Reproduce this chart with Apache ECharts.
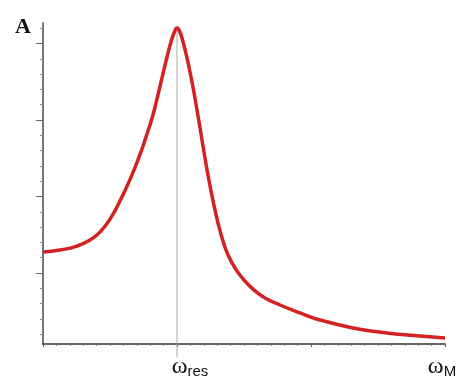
<!DOCTYPE html>
<html>
<head>
<meta charset="utf-8">
<script src="https://cdn.jsdelivr.net/npm/echarts@6/dist/echarts.min.js"></script>
<style>
  html, body { margin: 0; padding: 0; background: #fff; }
  #chart { width: 458px; height: 379px; }
</style>
</head>
<body>
<div id="chart"></div>
<script>
// Resonance curve: amplitude A against driving frequency ω
const omegaValues = [0, 1.27, 2.54, 3.51, 4.25, 5.0, 5.75, 6.49, 7.24, 7.69, 8.13, 8.43, 8.73, 9.03, 9.25, 9.55, 9.78, 10,
  10.22, 10.45, 10.75, 11.12, 11.34, 11.57, 11.94, 12.31, 12.69, 13.06, 13.43, 13.81, 14.33, 14.93, 15.67, 16.57,
  17.69, 19.18, 20.67, 23.13, 25.67, 28.13, 30];
const amplitudeValues = [6.37, 6.5, 6.76, 7.15, 7.67, 8.52, 9.72, 11.1, 12.75, 13.9, 15.1, 16.1, 17.2, 18.3, 19.1, 20.1, 20.69, 21.01,
  20.75, 20.1, 19.05, 17.48, 16.44, 15.26, 13.3, 11.41, 9.71, 8.27, 7.09, 6.18, 5.33, 4.61, 3.95, 3.37,
  2.91, 2.39, 1.93, 1.41, 1.08, 0.88, 0.75];

// Resonance marker
const resonanceOmega = 10;
const resonanceLine = [[resonanceOmega, 21.0], [resonanceOmega, -0.5]];

// Axis ranges and ticks
const omegaMin = 0, omegaMax = 30;
const ampMin = 0.36, ampMax = 21.34;
const ampMajorTicks = [5, 10, 15, 20];
const ampMinorTicks = [1, 2, 3, 4, 6, 7, 8, 9, 11, 12, 13, 14, 16, 17, 18, 19, 21];
const omegaLabelTicks = [10, 30];
const omegaLabels = { 10: 'res', 30: 'M' };
const yAxisTitle = 'A';

const curve = omegaValues.map((w, i) => [w, amplitudeValues[i]]);

const chart = echarts.init(document.getElementById('chart'), null, { renderer: 'canvas' });

const yBase = {
  type: 'value', min: ampMin, max: ampMax, position: 'left',
  splitLine: { show: false },
  axisLabel: { show: false }
};

chart.setOption({
  animation: false,
  backgroundColor: '#fff',
  title: {
    text: yAxisTitle, left: 10, top: 11,
    textStyle: { fontFamily: 'Liberation Serif', fontWeight: 'bold', fontSize: 22, color: '#111' }
  },
  grid: { left: 43, right: 13, top: 23, bottom: 35, containLabel: false, outerBoundsMode: 'none' },
  xAxis: {
    type: 'value', min: omegaMin, max: omegaMax, interval: 10,
    axisLine: { onZero: false, lineStyle: { color: '#333', width: 1.5 } },
    axisTick: { show: true, length: 3, lineStyle: { color: '#555' } },
    minorTick: { show: true, splitNumber: 10, length: 2, lineStyle: { color: '#777' } },
    splitLine: { show: false },
    axisLabel: {
      customValues: omegaLabelTicks,
      margin: 11,
      // spacer tokens shift the ω glyph so it sits over its tick
      formatter: v => v === resonanceOmega
        ? '{sp|}{w|ω}{s|' + omegaLabels[v] + '}'
        : '{w|ω}{s|' + omegaLabels[v] + '}{sp2|}',
      rich: {
        sp: { width: 26 },
        sp2: { width: 6 },
        w: { fontFamily: 'Liberation Serif', fontSize: 24, color: '#111', verticalAlign: 'top', lineHeight: 24 },
        s: { fontFamily: 'Liberation Sans', fontSize: 15, color: '#111', verticalAlign: 'bottom', lineHeight: 15, padding: [16, 0, 0, 0] }
      }
    }
  },
  yAxis: [
    Object.assign({}, yBase, {
      axisLine: { show: true, lineStyle: { color: '#777', width: 2 } },
      axisTick: { show: true, customValues: ampMajorTicks, length: 7, lineStyle: { color: '#666' } }
    }),
    Object.assign({}, yBase, {
      axisLine: { show: false },
      axisTick: { show: true, customValues: ampMinorTicks, length: 3, lineStyle: { color: '#888' } }
    })
  ],
  series: [
    {
      type: 'line', data: resonanceLine, clip: false, symbol: 'none',
      lineStyle: { color: '#aaa', width: 1 }, silent: true
    },
    {
      type: 'line', data: curve, smooth: 0.5, symbol: 'none',
      lineStyle: { color: '#d42222', width: 3.5 }
    }
  ]
});
</script>
</body>
</html>
